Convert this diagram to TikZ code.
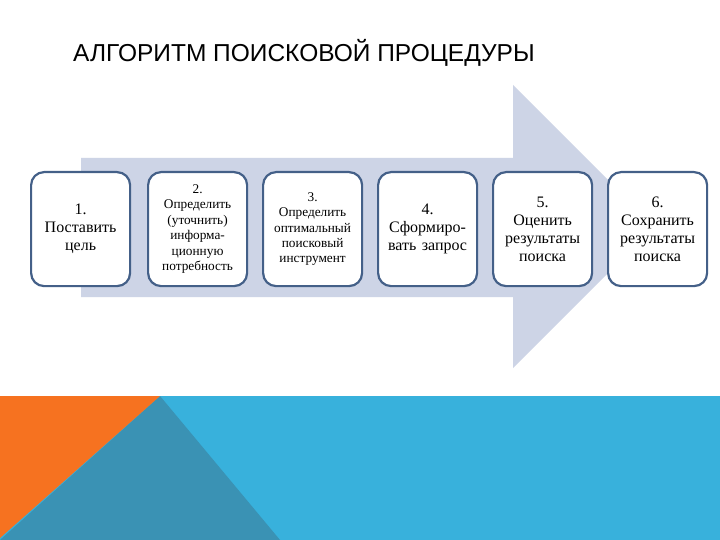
\documentclass[tikz,border=0pt]{standalone}
\usepackage{fontspec}
\setmainfont{Liberation Serif}
\newfontfamily\titlefont{Liberation Sans}
\definecolor{arrowfill}{RGB}{205,212,230}
\definecolor{boxline}{RGB}{68,96,136}
\definecolor{bandblue}{RGB}{56,177,220}
\definecolor{bandteal}{RGB}{58,146,180}
\definecolor{bandorange}{RGB}{246,114,32}
\tikzset{
  stepbox/.style={draw=boxline, line width=2.2pt, fill=white, rounded corners=13pt,
    minimum width=99pt, minimum height=114pt, anchor=north west, inner sep=0pt,
    align=center, text width=97pt},
  bigtext/.style={font=\fontsize{16}{18}\selectfont},
  smalltext/.style={font=\fontsize{13.3}{15.4}\selectfont}
}
\begin{document}
\begin{tikzpicture}[x=1pt,y=-1pt]
\useasboundingbox (0,0) rectangle (720,540);
\fill[white] (0,0) rectangle (720,540);
% title
\node[anchor=base west, inner sep=0pt, font=\titlefont\fontsize{24.5}{28}\selectfont] (title) at (73,62) {АЛГОРИТМ ПОИСКОВОЙ ПРОЦЕДУРЫ};
% big arrow
\fill[arrowfill] (81,158) -- (513,158) -- (513,85) -- (654.5,226.5) -- (513,368) -- (513,297) -- (81,297) -- cycle;
% bottom band
\fill[bandblue] (0,396) rectangle (720,540);
\fill[bandteal] (160,396) -- (280,540) -- (0,540) -- cycle;
\fill[bandorange] (0,396) -- (160,396) -- (0,538) -- cycle;
% boxes
\node[stepbox, bigtext] (s1) at (30,171) {1.\\Поставить\\цель};
\node[stepbox, smalltext] (s2) at (147,171) {2.\\Определить\\(уточнить)\\информа-\\ционную\\потребность};
\node[stepbox, smalltext] (s3) at (262,171) {3.\\Определить\\оптимальный\\поисковый\\инструмент};
\node[stepbox, bigtext] (s4) at (377,171) {4.\\Сформиро-\\вать запрос};
\node[stepbox, bigtext] (s5) at (492,171) {5.\\Оценить\\результаты\\поиска};
\node[stepbox, bigtext] (s6) at (607,171) {6.\\Сохранить\\результаты\\поиска};
\end{tikzpicture}
\end{document}
